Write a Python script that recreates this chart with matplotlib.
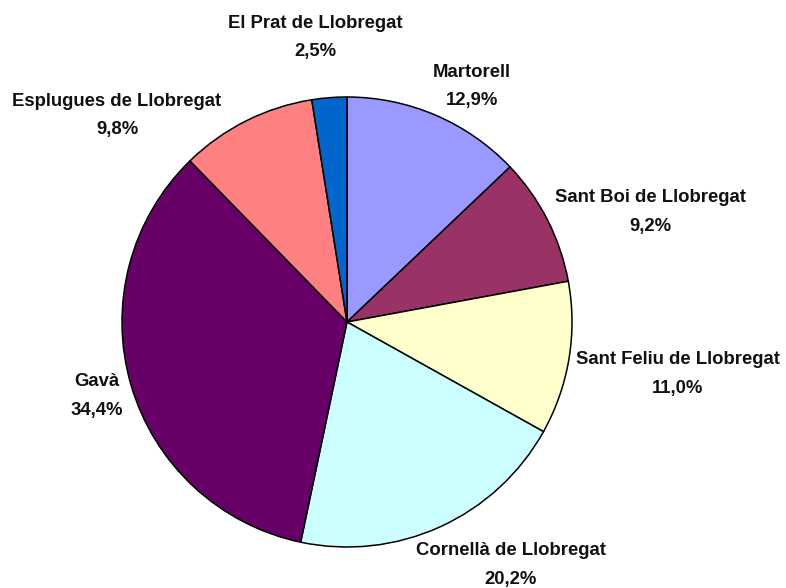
import matplotlib
matplotlib.use("Agg")
import matplotlib.pyplot as plt
import numpy as np

categories = ["Martorell", "Sant Boi de Llobregat", "Sant Feliu de Llobregat",
              "Cornellà de Llobregat", "Gavà", "Esplugues de Llobregat",
              "El Prat de Llobregat"]
values = [12.9, 9.2, 11.0, 20.2, 34.4, 9.8, 2.5]
colors = ["#9999FF", "#993366", "#FFFFCC", "#CCFFFF", "#660066", "#FF8080", "#0066CC"]

# label anchor offsets (in radius units, relative to pie centre) - layout only
label_pos = [(0.555, 1.045), (1.347, 0.489), (1.471, -0.231), (0.729, -1.08),
             (-1.111, -0.329), (-1.022, 0.916), (-0.142, 1.264)]

W, H = 786, 588
fig = plt.figure(figsize=(W / 100, H / 100), dpi=100)
ax = fig.add_axes([0, 0, 1, 1])
cx, cy, R = 347, 322, 225

wedges, _ = ax.pie(values, colors=colors, startangle=90, counterclock=False,
                   wedgeprops=dict(edgecolor="black", linewidth=1.1),
                   radius=1.0)

fam = ["Liberation Sans Narrow", "Liberation Sans", "DejaVu Sans"]
for name, v, (lx, ly) in zip(categories, values, label_pos):
    txt = f"{name}\n{v:.1f}%".replace(".", ",")
    ax.text(lx, ly, txt, ha="center", va="center", fontsize=13.3,
            fontweight="bold", family=fam, linespacing=1.85, color="#111111")

ax.set_xlim(-cx / R, (W - cx) / R)
ax.set_ylim(-(H - cy) / R, cy / R)
ax.set_aspect("auto")
ax.axis("off")
fig.savefig("out.png", dpi=100, facecolor="white")
